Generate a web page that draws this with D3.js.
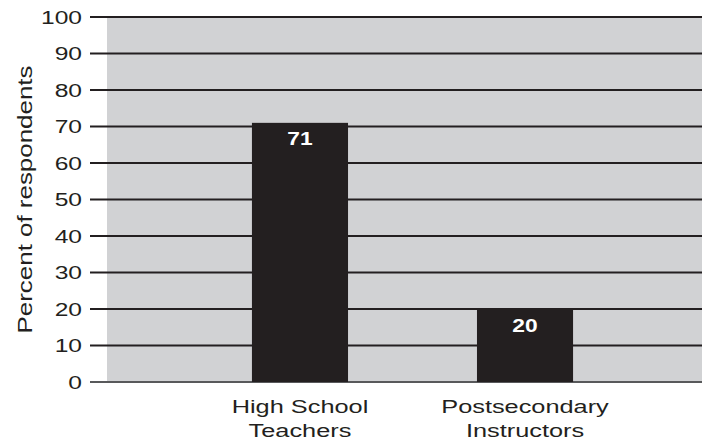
<!DOCTYPE html>
<html>
<head>
<meta charset="utf-8">
<script src="https://cdn.jsdelivr.net/npm/d3@7"></script>
<style>
  body { margin: 0; background: #fff; }
  text { font-family: "Liberation Sans", Arial, Helvetica, sans-serif; fill: #231f20; }
</style>
</head>
<body>
<div id="chart"></div>
<script>
// data
const categories = ["High School Teachers", "Postsecondary Instructors"];
const categoryLines = [["High School", "Teachers"], ["Postsecondary", "Instructors"]];
const values = [71, 20];
const yTicks = [0, 10, 20, 30, 40, 50, 60, 70, 80, 90, 100];
const yLabel = "Percent of respondents";

const width = 702, height = 440;
const plot = { left: 107, right: 702, top: 17, bottom: 382 };
const ink = "#231f20";

const svg = d3.select("#chart").append("svg")
    .attr("width", width)
    .attr("height", height);

const y = d3.scaleLinear().domain([0, 100]).range([plot.bottom, plot.top]);
const x = d3.scaleBand().domain(categories).range([123, 702]).padding(0.573);

// gray background
svg.append("rect")
    .attr("x", plot.left)
    .attr("y", plot.top)
    .attr("width", plot.right - plot.left)
    .attr("height", plot.bottom - plot.top)
    .style("fill", "#d1d2d4");

// gridlines + ticks
svg.selectAll(".grid")
    .data(yTicks)
    .enter().append("line")
    .attr("class", "grid")
    .attr("x1", 90)
    .attr("x2", plot.right)
    .attr("y1", d => y(d))
    .attr("y2", d => y(d))
    .style("stroke", d => d === 0 ? "#58595b" : ink)
    .style("stroke-width", 1.8);

svg.selectAll(".tickLabel")
    .data(yTicks)
    .enter().append("text")
    .attr("class", "tickLabel")
    .text(d => d)
    .attr("transform", d => "translate(82," + (y(d) + 6.5) + ") scale(1.33,1)")
    .style("text-anchor", "end")
    .style("font-size", "18.5px");

// bars
svg.selectAll(".bar")
    .data(values)
    .enter().append("rect")
    .attr("class", "bar")
    .attr("x", (d, i) => x(categories[i]))
    .attr("y", d => y(d))
    .attr("width", x.bandwidth())
    .attr("height", d => plot.bottom - y(d))
    .style("fill", ink);

svg.selectAll(".value")
    .data(values)
    .enter().append("text")
    .attr("class", "value")
    .text(d => d)
    .attr("transform", (d, i) => "translate(" + (x(categories[i]) + x.bandwidth() / 2) + "," + (y(d) + 22.5) + ") scale(1.2,1)")
    .style("text-anchor", "middle")
    .style("font-size", "19px")
    .style("font-weight", "bold")
    .style("fill", "#fff");

// category labels, two lines each
categoryLines.forEach((lines, i) => {
  const cx = x(categories[i]) + x.bandwidth() / 2;
  lines.forEach((line, j) => {
    svg.append("text")
        .text(line)
        .attr("transform", "translate(" + cx + "," + (412.5 + j * 24) + ") scale(1.37,1)")
        .style("text-anchor", "middle")
        .style("font-size", "18.5px");
  });
});

// y axis title
svg.append("text")
    .text(yLabel)
    .attr("transform", "translate(32," + ((plot.top + plot.bottom) / 2) + ") rotate(-90) scale(1.235,1)")
    .style("text-anchor", "middle")
    .style("font-size", "21px");
</script>
</body>
</html>
